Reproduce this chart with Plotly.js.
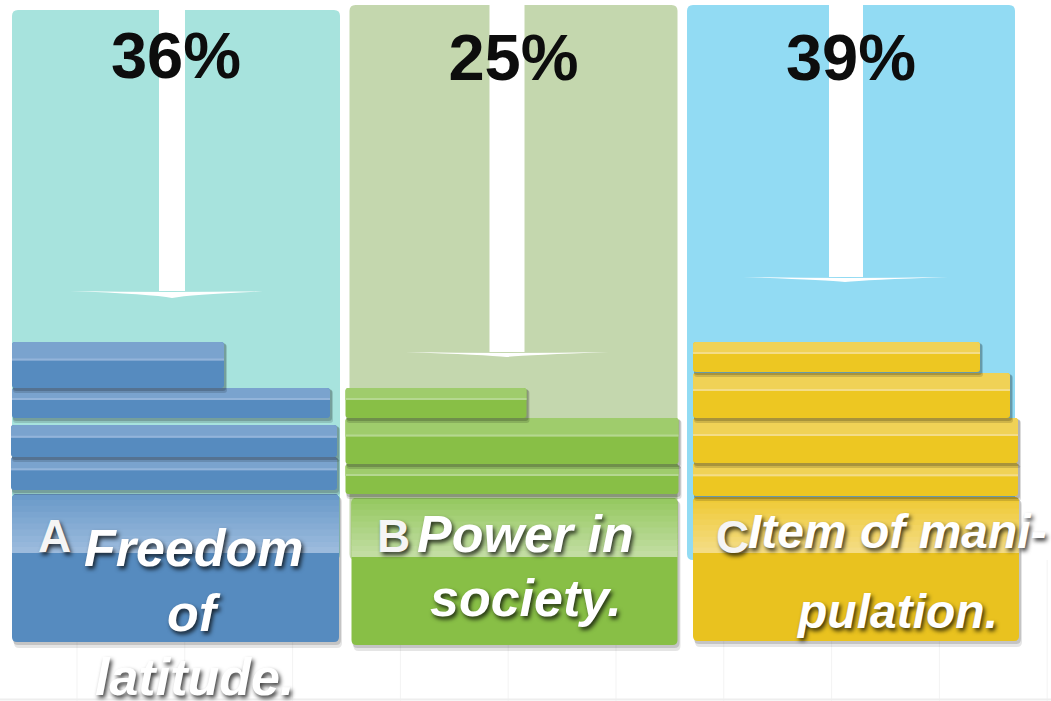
<!DOCTYPE html>
<html><head><meta charset="utf-8">
<script src="https://cdn.plot.ly/plotly-3.0.1.min.js"></script>
<style>html,body{margin:0;padding:0;background:#fff;overflow:hidden}#chart{width:1051px;height:701px}</style>
</head><body><div id="chart"></div>
<script>
// ---- data ----
const categories = ['A', 'B', 'C'];
const percents = [36, 25, 39];
const labelLines = [['Freedom', 'of', 'latitude.'], ['Power in', 'society.'], ['Item of mani-', 'pulation.']];

// ---- styles ----
const panelColors = ['#a7e3dd', '#c4d7ae', '#92dbf3'];
const barColors = ['#568bbf', '#88bf46', '#edc722'];
const hiColors = ['#7aa3ce', '#9fcc6c', '#f0d256'];
const hiLineColors = ['#93b4da', '#b5d890', '#f4dd88'];
const bandTop = ['#6a9ac9', '#96c962', '#efca36'];
const bandBot = ['#9cbbdd', '#c2dda2', '#f4dc84'];
const boxColors = ['#568bbf', '#88bf46', '#e9c21f'];

// ---- layout geometry (px offsets from each category centre) ----
const SX = 337.5, ORIGIN = 176, W = 1051, H = 701;
const panelTop = [10, 5, 5];
const stacks = [
  [[-164, 48, 342, 388], [-164, 154, 388, 418], [-165, 161, 425, 457], [-165, 161, 457, 490]],
  [[-168, 13, 388, 418], [-168, 165, 418, 464], [-168, 165, 464, 494]],
  [[-158, 129, 342, 372], [-158, 159, 373, 418], [-158, 167, 418, 463], [-158, 167, 463, 496]]
];
const boxes = [[-164, 163, 494, 642, 553], [-162, 164, 498, 645, 557], [-158, 168, 497, 641, 553]];
const arrows = [
  {s0: -17, s1: 9, h0: -106, h1: 96, hy: 291, tx: -4, ty: 298},
  {s0: -24, s1: 11, h0: -108, h1: 95, hy: 352, tx: -7, ty: 357},
  {s0: -22, s1: 12, h0: -108, h1: 97, hy: 277, tx: -6, ty: 282}
];
const pctY = [62, 64, 64];
const letterPos = [[-122, 536], [-120, 536], [-119, 537]];
const lineDx = [18, 12, 46];
const lineY = [[548, 613, 677], [534, 598], [531, 611]];
const lineFont = [52, 52, 48];

function X(i, dx) { return i + dx / SX; }
function rpath(i, a, b, y0, y1, rt, rb) {
  return 'M' + X(i, a + rt) + ',' + y0 + ' L' + X(i, b - rt) + ',' + y0 +
    ' Q' + X(i, b) + ',' + y0 + ' ' + X(i, b) + ',' + (y0 + rt) +
    ' L' + X(i, b) + ',' + (y1 - rb) +
    ' Q' + X(i, b) + ',' + y1 + ' ' + X(i, b - rb) + ',' + y1 +
    ' L' + X(i, a + rb) + ',' + y1 +
    ' Q' + X(i, a) + ',' + y1 + ' ' + X(i, a) + ',' + (y1 - rb) +
    ' L' + X(i, a) + ',' + (y0 + rt) +
    ' Q' + X(i, a) + ',' + y0 + ' ' + X(i, a + rt) + ',' + y0 + ' Z';
}
function shp(path, color) {
  return {type: 'path', path: path, xref: 'x', yref: 'y', fillcolor: color, line: {width: 0}, layer: 'below'};
}
function mix(c1, c2, t) {
  const p = c => [1, 3, 5].map(k => parseInt(c.substr(k, 2), 16));
  const a = p(c1), b = p(c2);
  return 'rgb(' + a.map((v, k) => Math.round(v + (b[k] - v) * t)).join(',') + ')';
}

const shapes = [];
// faint background grid
for (let k = 0; k < 10; k++) {
  const gx = 77 + k * 107.8;
  shapes.push({type: 'line', xref: 'x', yref: 'y', x0: (gx - ORIGIN) / SX, x1: (gx - ORIGIN) / SX, y0: 560, y1: H,
    line: {color: '#f3f3f3', width: 1}, layer: 'below'});
}
shapes.push({type: 'line', xref: 'x', yref: 'y', x0: -ORIGIN / SX, x1: (W - ORIGIN) / SX, y0: 699.5, y1: 699.5,
  line: {color: '#eeeeee', width: 2}, layer: 'below'});

categories.forEach((c, i) => {
  // panel background
  shapes.push(shp(rpath(i, -164, 164, panelTop[i], 560, 6, 6), panelColors[i]));
  // arrow
  const a = arrows[i];
  shapes.push(shp('M' + X(i, a.s0) + ',' + panelTop[i] + ' L' + X(i, a.s1) + ',' + panelTop[i] +
    ' L' + X(i, a.s1) + ',' + a.hy + ' L' + X(i, a.s0) + ',' + a.hy + ' Z', '#ffffff'));
  shapes.push(shp('M' + X(i, a.h0) + ',' + a.hy + ' Q' + X(i, a.tx) + ',' + (a.hy + 2) + ' ' + X(i, a.h1) + ',' + a.hy +
    ' Q' + X(i, a.tx + 20) + ',' + (a.hy + 3) + ' ' + X(i, a.tx) + ',' + a.ty +
    ' Q' + X(i, a.tx - 20) + ',' + (a.hy + 3) + ' ' + X(i, a.h0) + ',' + a.hy + ' Z', '#ffffff'));
  // label box
  const bx = boxes[i];
  shapes.push(shp(rpath(i, bx[0] + 2, bx[1] + 3, bx[2] + 3, bx[3] + 6, 5, 5), 'rgba(0,0,0,0.10)'));
  shapes.push(shp(rpath(i, bx[0] + 1, bx[1] + 2, bx[2] + 2, bx[3] + 3, 5, 5), 'rgba(0,0,0,0.14)'));
  shapes.push(shp(rpath(i, bx[0], bx[1], bx[2], bx[3], 5, 5), boxColors[i]));
  const nSteps = 10, bh = (bx[4] - bx[2]) / nSteps;
  for (let s = 0; s < nSteps; s++) {
    const y0 = bx[2] + s * bh, y1 = y0 + bh + 0.5;
    shapes.push(shp(rpath(i, bx[0], bx[1], y0, Math.min(y1, bx[4]), s === 0 ? 5 : 0, 0), mix(bandTop[i], bandBot[i], s / (nSteps - 1))));
  }
  // stacked bars, bottom first so upper shadows fall on lower bars
  const st = stacks[i];
  for (let k = st.length - 1; k >= 0; k--) {
    const [b0, b1, y0, y1] = st[k];
    shapes.push(shp(rpath(i, b0 + 1, b1 + 3, y0 + 2, y1 + 5, 3, 3), 'rgba(0,0,0,0.14)'));
    shapes.push(shp(rpath(i, b0 + 1, b1 + 2, y0 + 1, y1 + 3, 3, 3), 'rgba(0,0,0,0.18)'));
    shapes.push(shp(rpath(i, b0, b1, y0, y1, 3, 3), barColors[i]));
    const hb = y0 + (y1 - y0) * 0.4;
    shapes.push(shp(rpath(i, b0, b1, y0, hb, 3, 0), hiColors[i]));
    shapes.push(shp(rpath(i, b0, b1, hb - 2, hb, 0, 0), hiLineColors[i]));
  }
});

// ---- annotations (labels) ----
const shadow = '2px 3px 4px rgba(0,0,0,0.75)';
const annotations = [];
categories.forEach((c, i) => {
  annotations.push({x: X(i, letterPos[i][0]), y: letterPos[i][1], xref: 'x', yref: 'y', text: c, showarrow: false,
    xanchor: 'center', yanchor: 'middle',
    font: {family: 'Liberation Sans, Arial, sans-serif', size: 46, color: '#f5f5f5', weight: 700, shadow: shadow}});
  labelLines[i].forEach((t, k) => {
    annotations.push({x: X(i, lineDx[i]), y: lineY[i][k], xref: 'x', yref: 'y', text: t, showarrow: false,
      xanchor: 'center', yanchor: 'middle',
      font: {family: 'Liberation Sans, Arial, sans-serif', size: lineFont[i], color: '#ffffff', weight: 700, style: 'italic', shadow: shadow}});
  });
});

const traces = [{
  type: 'scatter', mode: 'text', x: categories.map((c, i) => i), y: pctY,
  text: percents.map(p => p + '%'), textposition: 'middle center',
  textfont: {family: 'Liberation Sans, Arial, sans-serif', size: 65, color: '#0d0d0d', weight: 700},
  hoverinfo: 'skip', showlegend: false
}];

const layout = {
  width: W, height: H, margin: {l: 0, r: 0, t: 0, b: 0},
  paper_bgcolor: '#ffffff', plot_bgcolor: '#ffffff',
  xaxis: {range: [-ORIGIN / SX, (W - ORIGIN) / SX], visible: false, fixedrange: true},
  yaxis: {range: [H, 0], visible: false, fixedrange: true},
  shapes: shapes, annotations: annotations, showlegend: false
};
Plotly.newPlot('chart', traces, layout, {displayModeBar: false, staticPlot: true});
</script></body></html>
